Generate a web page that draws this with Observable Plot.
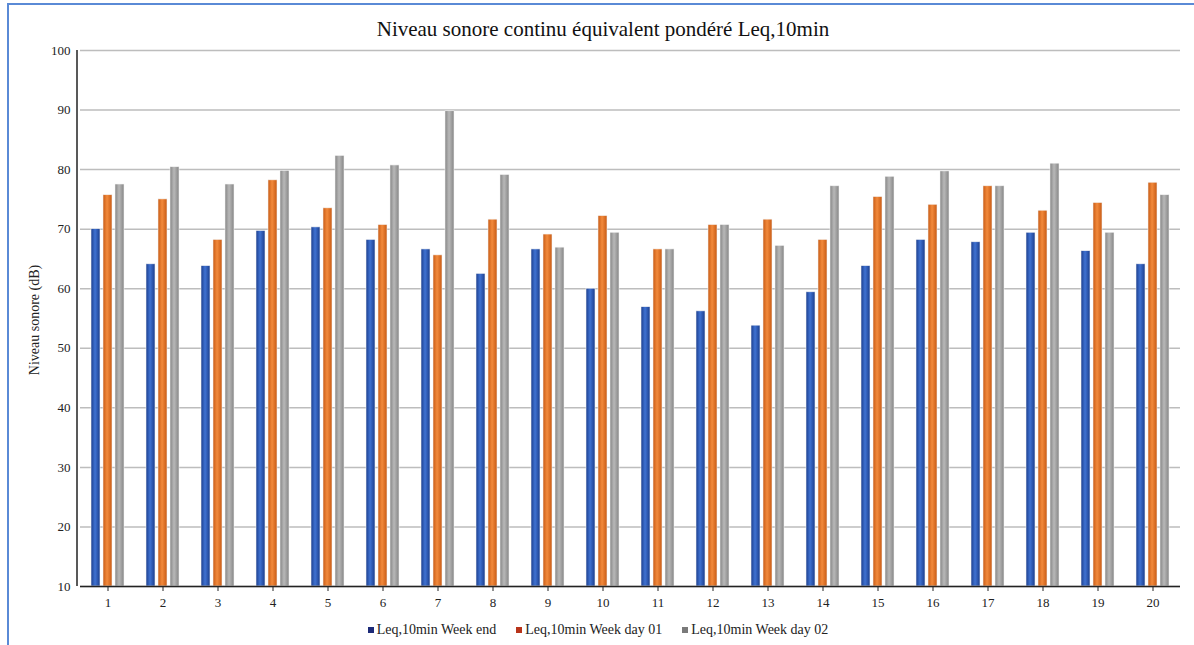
<!DOCTYPE html>
<html><head><meta charset="utf-8">
<script src="https://cdn.jsdelivr.net/npm/d3@7"></script>
<script src="https://cdn.jsdelivr.net/npm/@observablehq/plot@0.6"></script>
<style>
body{margin:0;background:#fff;}
#wrap{position:relative;width:1194px;height:645px;overflow:hidden;font-family:"Liberation Serif","Times New Roman",serif;background:#fff;}
#border{position:absolute;left:7px;top:3px;right:-5px;bottom:-5px;border-top:2px solid #5a8ad6;border-left:2px solid #5a8ad6;}
#title{position:absolute;top:17px;left:0;width:1206px;text-align:center;font-size:21px;color:#111;}
#ylabel{position:absolute;left:35px;top:320px;transform:translate(-50%,-50%) rotate(-90deg);white-space:nowrap;font-size:14px;color:#222;}
#chart{position:absolute;left:0;top:0;}
#legend{position:absolute;top:622px;left:0;width:1196px;display:flex;justify-content:center;gap:20px;font-size:14px;color:#222;}
#legend .it{display:flex;align-items:center;gap:3px;}
#legend .sw{width:6px;height:6px;display:inline-block;}
</style>
</head><body>
<div id="wrap">
<div id="border"></div>
<div id="chart"></div>
<div id="title">Niveau sonore continu équivalent pondéré Leq,10min</div>
<div id="ylabel">Niveau sonore (dB)</div>
<div id="legend"></div>
</div>
<script>
const categories = ["1","2","3","4","5","6","7","8","9","10","11","12","13","14","15","16","17","18","19","20"];
const series = ["Leq,10min Week end","Leq,10min Week day 01","Leq,10min Week day 02"];
const weekEnd   = [70.0, 64.1, 63.8, 69.7, 70.3, 68.2, 66.6, 62.5, 66.6, 60.0, 56.9, 56.2, 53.8, 59.4, 63.8, 68.2, 67.8, 69.4, 66.3, 64.1];
const weekDay01 = [75.7, 75.0, 68.2, 78.2, 73.5, 70.7, 65.6, 71.6, 69.1, 72.2, 66.6, 70.7, 71.6, 68.2, 75.4, 74.1, 77.2, 73.1, 74.4, 77.8];
const weekDay02 = [77.5, 80.4, 77.5, 79.8, 82.3, 80.7, 89.8, 79.1, 66.9, 69.4, 66.6, 70.7, 67.2, 77.2, 78.8, 79.7, 77.2, 81.0, 69.4, 75.7];
const yDomain = [10, 100];
const yTicks = [10, 20, 30, 40, 50, 60, 70, 80, 90, 100];
const legendColors = ["#1c2a78", "#b8341a", "#7a7a7a"];
const gradients = [
  {id: "gBlue", edge: "#1b3d8c", mid: "#3f72d2"},
  {id: "gOrange", edge: "#c75a14", mid: "#f28a3c"},
  {id: "gGray", edge: "#858585", mid: "#b8b8b8"}
];

const values = [weekEnd, weekDay01, weekDay02];
const data = categories.flatMap((c, i) => series.map((s, j) => ({cat: c, series: s, value: values[j][i]})));

const M = {top: 50, bottom: 29, left: 77, right: 12};
const chart = Plot.plot({
  width: 1194, height: 615,
  marginTop: M.top, marginBottom: M.bottom, marginLeft: M.left, marginRight: M.right,
  style: {fontFamily: "'Liberation Serif','Times New Roman',serif", fontSize: "13px", color: "#222", background: "transparent", overflow: "visible"},
  fx: {domain: categories, padding: 0, label: null, axis: null},
  x: {domain: series, paddingInner: 0.22, paddingOuter: 0.75, axis: null},
  y: {domain: yDomain, ticks: yTicks},
  color: {domain: series, range: gradients.map(g => `url(#${g.id})`)},
  marks: [
    Plot.gridY(yTicks, {stroke: "#bdbdbd", strokeOpacity: 1, strokeWidth: 1.5}),
    Plot.barY(data, {fx: "cat", x: "series", y1: yDomain[0], y2: "value", fill: "series", stroke: "#f4f4f4", strokeWidth: 0.6}),
    Plot.ruleY([yDomain[0]], {stroke: "#222", strokeWidth: 1.5}),
    Plot.axisY(yTicks, {tickSize: 0, tickPadding: 10, label: null, fontSize: 13}),
    Plot.axisFx({anchor: "bottom", tickSize: 5, tickPadding: 6, label: null, fontSize: 13})
  ]
});

const svg = d3.select(chart.tagName === "svg" ? chart : chart.querySelector("svg"));
const defs = svg.insert("defs", ":first-child");
gradients.forEach(g => {
  const lg = defs.append("linearGradient").attr("id", g.id).attr("x1", 0).attr("x2", 1).attr("y1", 0).attr("y2", 0);
  lg.append("stop").attr("offset", "0%").attr("stop-color", g.edge);
  lg.append("stop").attr("offset", "45%").attr("stop-color", g.mid);
  lg.append("stop").attr("offset", "100%").attr("stop-color", g.edge);
});
const ys = chart.scale("y");
svg.append("line")
  .attr("x1", M.left).attr("x2", M.left)
  .attr("y1", ys.apply(yDomain[1])).attr("y2", ys.apply(yDomain[0]))
  .attr("stroke", "#222").attr("stroke-width", 1.5);

document.getElementById("chart").appendChild(chart);

const legend = d3.select("#legend");
series.forEach((s, i) => {
  const it = legend.append("div").attr("class", "it");
  it.append("span").attr("class", "sw").style("background", legendColors[i]);
  it.append("span").text(s);
});
</script>
</body></html>
